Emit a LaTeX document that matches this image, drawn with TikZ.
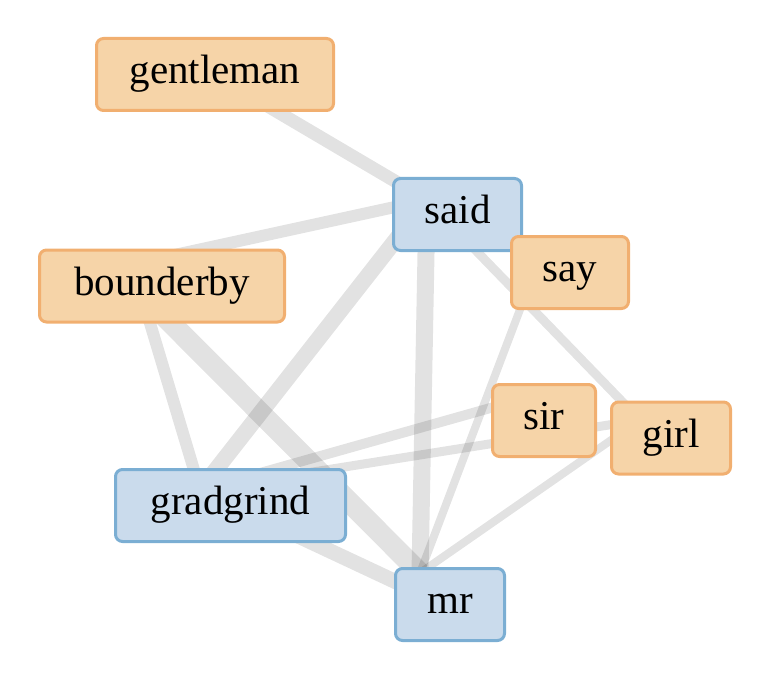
\documentclass[tikz,border=0pt]{standalone}
\usepackage{fontspec}
\setmainfont{Liberation Serif}
\usetikzlibrary{calc}
\definecolor{ofill}{RGB}{246,212,168}
\definecolor{odraw}{RGB}{241,175,112}
\definecolor{bfill}{RGB}{202,219,236}
\definecolor{bdraw}{RGB}{123,174,211}
\tikzset{
  lbl/.style={rectangle, rounded corners=7pt, line width=3pt, inner sep=0pt,
    minimum height=72pt, text height=28pt, text depth=10pt,
    font=\fontsize{41}{45}\selectfont},
  obox/.style={lbl, fill=ofill, draw=odraw},
  bbox/.style={lbl, fill=bfill, draw=bdraw},
  edge/.style={draw=black, draw opacity=0.115, line cap=butt},
}
\begin{document}
\begin{tikzpicture}[x=1pt,y=-1pt]
\useasboundingbox (0,0) rectangle (774,674);
% hub coordinates (where connectors end, hidden under the boxes)
\coordinate (gentleman-p) at (215,75);
\coordinate (said-p) at (427,200);
\coordinate (bounderby-p) at (141,293);
\coordinate (bounderby-q) at (170,256);
\coordinate (gradgrind-p) at (200,490);
\coordinate (mr-p) at (420,573);
\coordinate (mr-q) at (424,595);
\coordinate (say-p) at (535,270);
\coordinate (sir-p) at (540,394);
\coordinate (girl-p) at (640,420);
% connectors
\draw[edge, line width=13pt] (gentleman-p) -- (said-p);
\draw[edge, line width=12pt] (said-p) -- (bounderby-q);
\draw[edge, line width=16pt] (said-p) -- (gradgrind-p);
\draw[edge, line width=17pt] (said-p) -- (mr-p);
\draw[edge, line width=9pt] (said-p) -- (girl-p);
\draw[edge, line width=8pt] (say-p) -- (mr-p);
\draw[edge, line width=12pt] (bounderby-p) -- (gradgrind-p);
\draw[edge, line width=21pt] (bounderby-p) -- (mr-p);
\draw[edge, line width=15pt] (gradgrind-p) -- (mr-q);
\draw[edge, line width=10pt] (sir-p) -- (gradgrind-p);
\draw[edge, line width=9pt] (girl-p) -- (gradgrind-p);
\draw[edge, line width=8pt] (girl-p) -- (mr-p);
% boxes
\node[obox, minimum width=237pt] (gentleman) at (215,74.5) {gentleman};
\node[bbox, minimum width=128pt] (said) at (457.5,214.5) {said};
\node[obox, minimum width=117pt] (say) at (570,272.5) {say};
\node[obox, minimum width=245pt] (bounderby) at (162,286) {bounderby};
\node[bbox, minimum width=230pt] (gradgrind) at (230.5,505.5) {gradgrind};
\node[bbox, minimum width=109pt] (mr) at (450,604.5) {mr};
\node[obox, minimum width=103pt] (sir) at (544,420.5) {sir};
\node[obox, minimum width=119pt] (girl) at (671,438) {girl};
\end{tikzpicture}
\end{document}
